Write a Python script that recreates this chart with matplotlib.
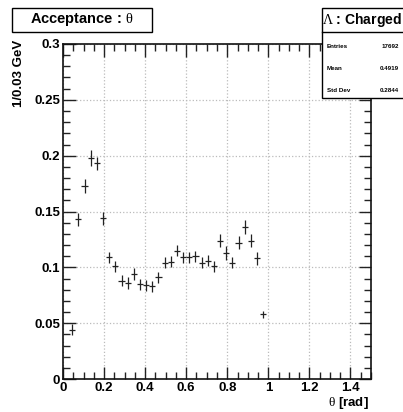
import matplotlib
matplotlib.use("Agg")
import matplotlib.pyplot as plt
from matplotlib.ticker import MultipleLocator, FixedLocator, FixedFormatter
import numpy as np

plt.rcParams['font.family'] = ['Liberation Sans', 'DejaVu Sans']
plt.rcParams['mathtext.fontset'] = 'custom'
plt.rcParams['mathtext.rm'] = 'Liberation Serif'
plt.rcParams['mathtext.it'] = 'Liberation Serif'
plt.rcParams['mathtext.bf'] = 'Liberation Serif'

# data
bin_centers = [0.045, 0.075, 0.105, 0.135, 0.165, 0.195, 0.225, 0.255, 0.285, 0.315,
               0.345, 0.375, 0.405, 0.435, 0.465, 0.495, 0.525, 0.555, 0.585, 0.615,
               0.645, 0.675, 0.705, 0.735, 0.765, 0.795, 0.825, 0.855, 0.885, 0.915,
               0.945, 0.975]
values = [0.044, 0.143, 0.173, 0.198, 0.193, 0.144, 0.109, 0.101, 0.088, 0.086,
          0.094, 0.085, 0.084, 0.083, 0.091, 0.104, 0.105, 0.115, 0.109, 0.109,
          0.110, 0.104, 0.106, 0.101, 0.124, 0.113, 0.104, 0.122, 0.136, 0.124,
          0.108, 0.058]
errors = [0.005, 0.006, 0.006, 0.007, 0.006, 0.006, 0.005, 0.005, 0.005, 0.005,
          0.005, 0.005, 0.005, 0.005, 0.005, 0.005, 0.005, 0.005, 0.005, 0.005,
          0.005, 0.005, 0.005, 0.005, 0.006, 0.006, 0.005, 0.006, 0.006, 0.006,
          0.006, 0.003]
bin_half = 0.015
x_ticks = [0, 0.2, 0.4, 0.6, 0.8, 1.0, 1.2, 1.4]
x_tick_labels = ['0', '0.2', '0.4', '0.6', '0.8', '1', '1.2', '1.4']
y_ticks = [0, 0.05, 0.1, 0.15, 0.2, 0.25, 0.3]
y_tick_labels = ['0', '0.05', '0.1', '0.15', '0.2', '0.25', '0.3']
stats_labels = ['Entries', 'Mean', 'Std Dev']
stats_values = ['17692', '0.4919', '0.2844']

W, H = 403, 412
fig = plt.figure(figsize=(W / 100, H / 100), dpi=100)
ax = fig.add_axes([63 / W, 1 - 379 / H, (371 - 63) / W, (379 - 44) / H])

ax.errorbar(bin_centers, values, yerr=errors, xerr=bin_half, fmt='none',
            ecolor='#222222', elinewidth=0.9, capsize=0)

ax.set_xlim(0, 1.5)
ax.set_ylim(0, 0.3)
ax.xaxis.set_major_locator(FixedLocator(x_ticks))
ax.xaxis.set_major_formatter(FixedFormatter(x_tick_labels))
ax.yaxis.set_major_locator(FixedLocator(y_ticks))
ax.yaxis.set_major_formatter(FixedFormatter(y_tick_labels))
ax.xaxis.set_minor_locator(MultipleLocator(0.05))
ax.yaxis.set_minor_locator(MultipleLocator(0.01))
ax.tick_params(which='both', direction='in', top=True, right=True, color='#222222')
ax.tick_params(which='major', length=9, width=1.0)
ax.tick_params(which='minor', length=5, width=1.0)
ax.tick_params(axis='both', labelsize=9.5, pad=2)
for lab in ax.get_xticklabels() + ax.get_yticklabels():
    lab.set_fontweight('bold')
ax.grid(True, which='major', color='#bbbbbb', linestyle=':', linewidth=0.9)
for s in ax.spines.values():
    s.set_linewidth(1.2)
    s.set_color('#111111')

fig.text(19 / W, 1 - 40 / H, '1/0.03 GeV', rotation=90, ha='center', va='top',
         fontsize=9.5, fontweight='bold')
fig.text(369 / W, 1 - 403 / H, r'$\theta$ [rad]', ha='right', va='center',
         fontsize=9.5, fontweight='bold')

# title box
fig.patches.append(plt.Rectangle((12 / W, 1 - 32 / H), 140 / W, 24 / H,
                                 transform=fig.transFigure, fill=False,
                                 edgecolor='black', linewidth=1.0))
fig.text(82 / W, 1 - 20 / H, r'Acceptance : $\theta$', ha='center', va='center',
         fontsize=10.5, fontweight='bold')

# stats box
fig.patches.append(plt.Rectangle((322 / W, 1 - 98 / H), 90 / W, 90 / H,
                                 transform=fig.transFigure, facecolor='white',
                                 edgecolor='black', linewidth=1.0, zorder=5))
fig.lines.append(plt.Line2D([322 / W, 1], [1 - 32 / H, 1 - 32 / H],
                            transform=fig.transFigure, color='black', lw=1.0, zorder=6))
fig.text(362 / W, 1 - 20 / H, r'$\Lambda$ : Charged', ha='center', va='center',
         fontsize=10, fontweight='bold', zorder=7)
for i, (lab, val) in enumerate(zip(stats_labels, stats_values)):
    yy = 1 - (47 + i * 22) / H
    fig.text(327 / W, yy, lab, ha='left', va='center', fontsize=4.5,
             fontweight='bold', zorder=7)
    fig.text(399 / W, yy, val, ha='right', va='center', fontsize=4.5,
             fontweight='bold', zorder=7)

fig.savefig('out.png', dpi=100)
